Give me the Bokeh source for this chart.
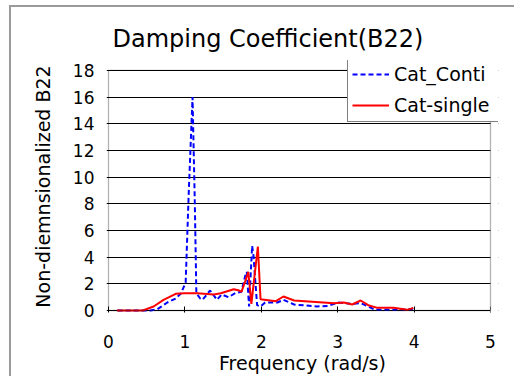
from bokeh.plotting import figure
from bokeh.models import Range1d, FixedTicker, Legend, LegendItem, BoxAnnotation
from bokeh.embed import file_html
from bokeh.resources import INLINE

# ---- data ----
freq_conti = [0.12, 0.46, 0.55, 0.64, 0.77, 0.88, 0.95, 1.01, 1.05, 1.10, 1.13, 1.15,
              1.20, 1.23, 1.33, 1.42, 1.48, 1.57, 1.66, 1.74, 1.79, 1.81, 1.84,
              1.88, 1.90, 1.915, 1.945, 1.99, 2.05, 2.21, 2.29, 2.43, 2.73, 2.88, 3.00,
              3.17, 3.30, 3.40, 3.49, 3.69, 3.97, 4.00]
b22_conti = [0.0, 0.0, 0.0, 0.1, 0.6, 0.9, 1.3, 2.1, 8.8, 16.0, 8.0, 1.3,
             0.9, 0.8, 1.5, 0.8, 1.2, 1.0, 1.3, 1.4, 2.6, 2.9, 0.3,
             4.85, 4.0, 2.7, 0.4, 0.3, 0.6, 0.6, 0.8, 0.45, 0.3, 0.35, 0.6,
             0.5, 0.55, 0.3, 0.05, 0.05, 0.1, 0.3]

freq_single = [0.11, 0.45, 0.59, 0.72, 0.88, 0.99, 1.16, 1.38, 1.47, 1.64, 1.71, 1.74,
               1.79, 1.83, 1.87, 1.955, 1.99, 2.19, 2.29, 2.43, 2.95, 3.08, 3.19, 3.30,
               3.40, 3.52, 3.73, 3.91, 3.99]
b22_single = [0.0, 0.0, 0.3, 0.8, 1.25, 1.3, 1.3, 1.2, 1.3, 1.6, 1.5, 1.4,
              2.2, 2.9, 0.5, 4.8, 0.85, 0.7, 1.05, 0.75, 0.55, 0.6, 0.45, 0.75,
              0.4, 0.2, 0.2, 0.05, 0.2]

x_ticks = [0, 1, 2, 3, 4, 5]
y_ticks = [0, 2, 4, 6, 8, 10, 12, 14, 16, 18]
X_MAX, Y_MAX = 5, 18

FONT = "DejaVu Sans"
PX_X, PX_Y = 76.4, 13.4   # pixels per data unit

# frame is a little larger than the axis box so that the legend may stick out of it
p = figure(width=514, height=376, output_backend="svg", toolbar_location=None,
           x_range=Range1d(-2 / PX_X, X_MAX + 8 / PX_X),
           y_range=Range1d(-2 / PX_Y, Y_MAX + 10 / PX_Y),
           min_border_left=106, min_border_right=16,
           min_border_top=60, min_border_bottom=63,
           title="Damping Coefficient(B22)")

p.background_fill_color = "white"
p.border_fill_color = "white"
p.border_fill_alpha = 0.0
p.outline_line_color = None
p.styles = {
    "background": "linear-gradient(#9a9a9a, #9a9a9a) 9px 5px / 2px 600px no-repeat, "
                  "linear-gradient(#9a9a9a, #9a9a9a) 9px 5px / 800px 2px no-repeat, white",
}

p.title.text_font = FONT
p.title.text_font_size = "24px"
p.title.text_font_style = "normal"
p.title.align = "left"
p.title.offset = 6
p.title.text_color = "black"
p.title.standoff = 15

# grid
p.xgrid.grid_line_color = None
p.ygrid.ticker = FixedTicker(ticks=y_ticks)
p.ygrid.grid_line_color = "black"
p.ygrid.grid_line_width = 1.2
p.ygrid.grid_line_alpha = 1.0

# axes
p.xaxis.ticker = FixedTicker(ticks=x_ticks)
p.yaxis.ticker = FixedTicker(ticks=y_ticks)
for ax in (p.xaxis[0], p.yaxis[0]):
    ax.axis_line_color = None
    ax.major_label_text_font = FONT
    ax.major_label_text_font_size = "17px"
    ax.major_label_text_color = "black"
    ax.axis_label_text_font = FONT
    ax.axis_label_text_font_style = "normal"
    ax.axis_label_text_color = "black"
    ax.minor_tick_line_color = None

p.xaxis.major_tick_in = 6
p.xaxis.major_tick_out = 0
p.xaxis.major_tick_line_color = "black"
p.xaxis.major_label_standoff = 22
p.xaxis.axis_label = "Frequency (rad/s)"
p.xaxis.axis_label_text_font_size = "19px"
p.xaxis.axis_label_standoff = 1

p.yaxis.major_tick_in = 0
p.yaxis.major_tick_out = 0
p.yaxis.major_label_standoff = 12
p.yaxis.axis_label = "Non-diemnsionalized B22"
p.yaxis.axis_label_text_font_size = "19px"
p.yaxis.axis_label_standoff = 16

r_conti = p.line(freq_conti, b22_conti, line_color="#0000ff", line_width=2,
                 line_dash="5 3")
r_single = p.line(freq_single, b22_single, line_color="#ff0000", line_width=2)

# mask grid beyond the axis box, then draw the axis box
p.add_layout(BoxAnnotation(left=X_MAX, fill_color="white", fill_alpha=1.0,
                           line_color=None))
p.add_layout(BoxAnnotation(left=0, right=X_MAX, bottom=0, top=Y_MAX,
                           fill_color=None, fill_alpha=0, line_color="black",
                           line_width=1.3))

legend = Legend(items=[LegendItem(label="Cat_Conti", renderers=[r_conti]),
                       LegendItem(label="Cat-single", renderers=[r_single])],
                location=(241, 190))
legend.label_text_font = FONT
legend.label_text_font_size = "19px"
legend.label_text_color = "black"
legend.border_line_color = "black"
legend.border_line_width = 1
legend.background_fill_color = "white"
legend.background_fill_alpha = 1.0
legend.glyph_width = 37
legend.glyph_height = 24
legend.label_height = 24
legend.label_width = 101
legend.label_standoff = 5
legend.spacing = 7
legend.padding = 4
legend.margin = 0
p.add_layout(legend)

open("out.html", "w").write(file_html(p, INLINE))
